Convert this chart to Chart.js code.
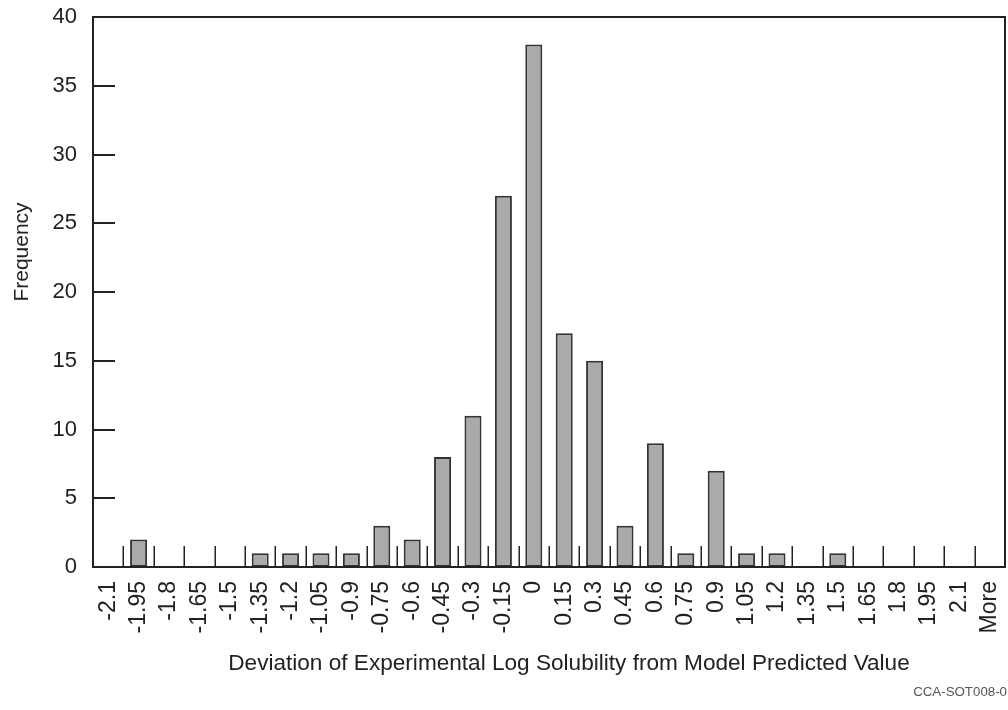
<!DOCTYPE html>
<html>
<head>
<meta charset="utf-8">
<title>Histogram of deviations</title>
<script src="https://cdn.jsdelivr.net/npm/chart.js@4/dist/chart.umd.min.js"></script>
<style>
  html, body { margin: 0; padding: 0; background: #fff; }
  #wrap { width: 1008px; height: 710px; }
</style>
</head>
<body>
<div id="wrap"><canvas id="histChart" width="1008" height="710"></canvas></div>
<script>
// bins (upper edge of each bin) and counts
const bins = ["-2.1", "-1.95", "-1.8", "-1.65", "-1.5", "-1.35", "-1.2", "-1.05", "-0.9", "-0.75",
              "-0.6", "-0.45", "-0.3", "-0.15", "0", "0.15", "0.3", "0.45", "0.6", "0.75",
              "0.9", "1.05", "1.2", "1.35", "1.5", "1.65", "1.8", "1.95", "2.1", "More"];
const frequency = [0, 2, 0, 0, 0, 1, 1, 1, 1, 3,
                   2, 8, 11, 27, 38, 17, 15, 3, 9, 1,
                   7, 1, 1, 0, 1, 0, 0, 0, 0, 0];
const yTicks = [0, 5, 10, 15, 20, 25, 30, 35, 40];

const xTitle = "Deviation of Experimental Log Solubility from Model Predicted Value";
const yTitle = "Frequency";
const figureId = "CCA-SOT008-0";

const FONT = '"Liberation Sans", Arial, sans-serif';
const INK = "#222";

// frame, inward tick marks and titles, drawn like the original figure
const frameAndTicks = {
  id: "frameAndTicks",
  afterDatasetsDraw(chart) {
    const { ctx, chartArea: a, scales: { x, y } } = chart;
    ctx.save();
    ctx.strokeStyle = INK;

    // y ticks point into the plot
    ctx.lineWidth = 2;
    ctx.beginPath();
    y.ticks.forEach(t => {
      const py = Math.round(y.getPixelForValue(t.value));
      ctx.moveTo(a.left, py);
      ctx.lineTo(a.left + 22, py);
    });
    ctx.stroke();

    // x ticks sit on the bin boundaries
    ctx.lineWidth = 1.5;
    ctx.beginPath();
    for (let i = 1; i < bins.length; i++) {
      const px = Math.round((x.getPixelForValue(i - 1) + x.getPixelForValue(i)) / 2) + 0.25;
      ctx.moveTo(px, a.bottom);
      ctx.lineTo(px, a.bottom - 21);
    }
    ctx.stroke();

    ctx.lineWidth = 2;
    ctx.strokeRect(a.left, a.top, a.right - a.left, a.bottom - a.top);

    // axis titles
    ctx.fillStyle = INK;
    ctx.textAlign = "center";
    ctx.textBaseline = "middle";
    ctx.font = "22.6px " + FONT;
    ctx.fillText(xTitle, 569, 664);
    ctx.save();
    ctx.translate(22, 252);
    ctx.rotate(-Math.PI / 2);
    ctx.font = "21px " + FONT;
    ctx.fillText(yTitle, 0, 0);
    ctx.restore();

    // figure id in the corner
    ctx.fillStyle = "#555";
    ctx.textAlign = "right";
    ctx.font = "13.3px " + FONT;
    ctx.fillText(figureId, 1007, 692);
    ctx.restore();
  }
};

const ctx = document.getElementById("histChart").getContext("2d");
new Chart(ctx, {
  type: "bar",
  data: {
    labels: bins,
    datasets: [{
      label: yTitle,
      data: frequency,
      backgroundColor: "#aaaaaa",
      borderColor: "#333",
      borderWidth: 2,
      borderSkipped: false,
      categoryPercentage: 1.0,
      barPercentage: 0.56
    }]
  },
  options: {
    responsive: false,
    animation: false,
    devicePixelRatio: 1,
    layout: { padding: { top: 17, right: 3, left: 0, bottom: 0 } },
    plugins: {
      legend: { display: false },
      tooltip: { enabled: false }
    },
    scales: {
      x: {
        grid: { display: false, drawTicks: false },
        border: { display: false },
        ticks: {
          autoSkip: false,
          minRotation: 90,
          maxRotation: 90,
          padding: 14,
          color: INK,
          font: { family: FONT, size: 23 }
        },
        afterFit: (scale) => {
          scale.height = 143;
          scale.paddingLeft = 0;
          scale.paddingRight = 0;
        }
      },
      y: {
        min: 0,
        max: 40,
        grid: { display: false, drawTicks: false },
        border: { display: false },
        ticks: {
          padding: 16,
          color: INK,
          font: { family: FONT, size: 22 }
        },
        afterBuildTicks: (scale) => { scale.ticks = yTicks.map(v => ({ value: v })); },
        afterFit: (scale) => {
          scale.width = 93;
          scale.paddingTop = 0;
          scale.paddingBottom = 0;
        }
      }
    }
  },
  plugins: [frameAndTicks]
});
</script>
</body>
</html>
